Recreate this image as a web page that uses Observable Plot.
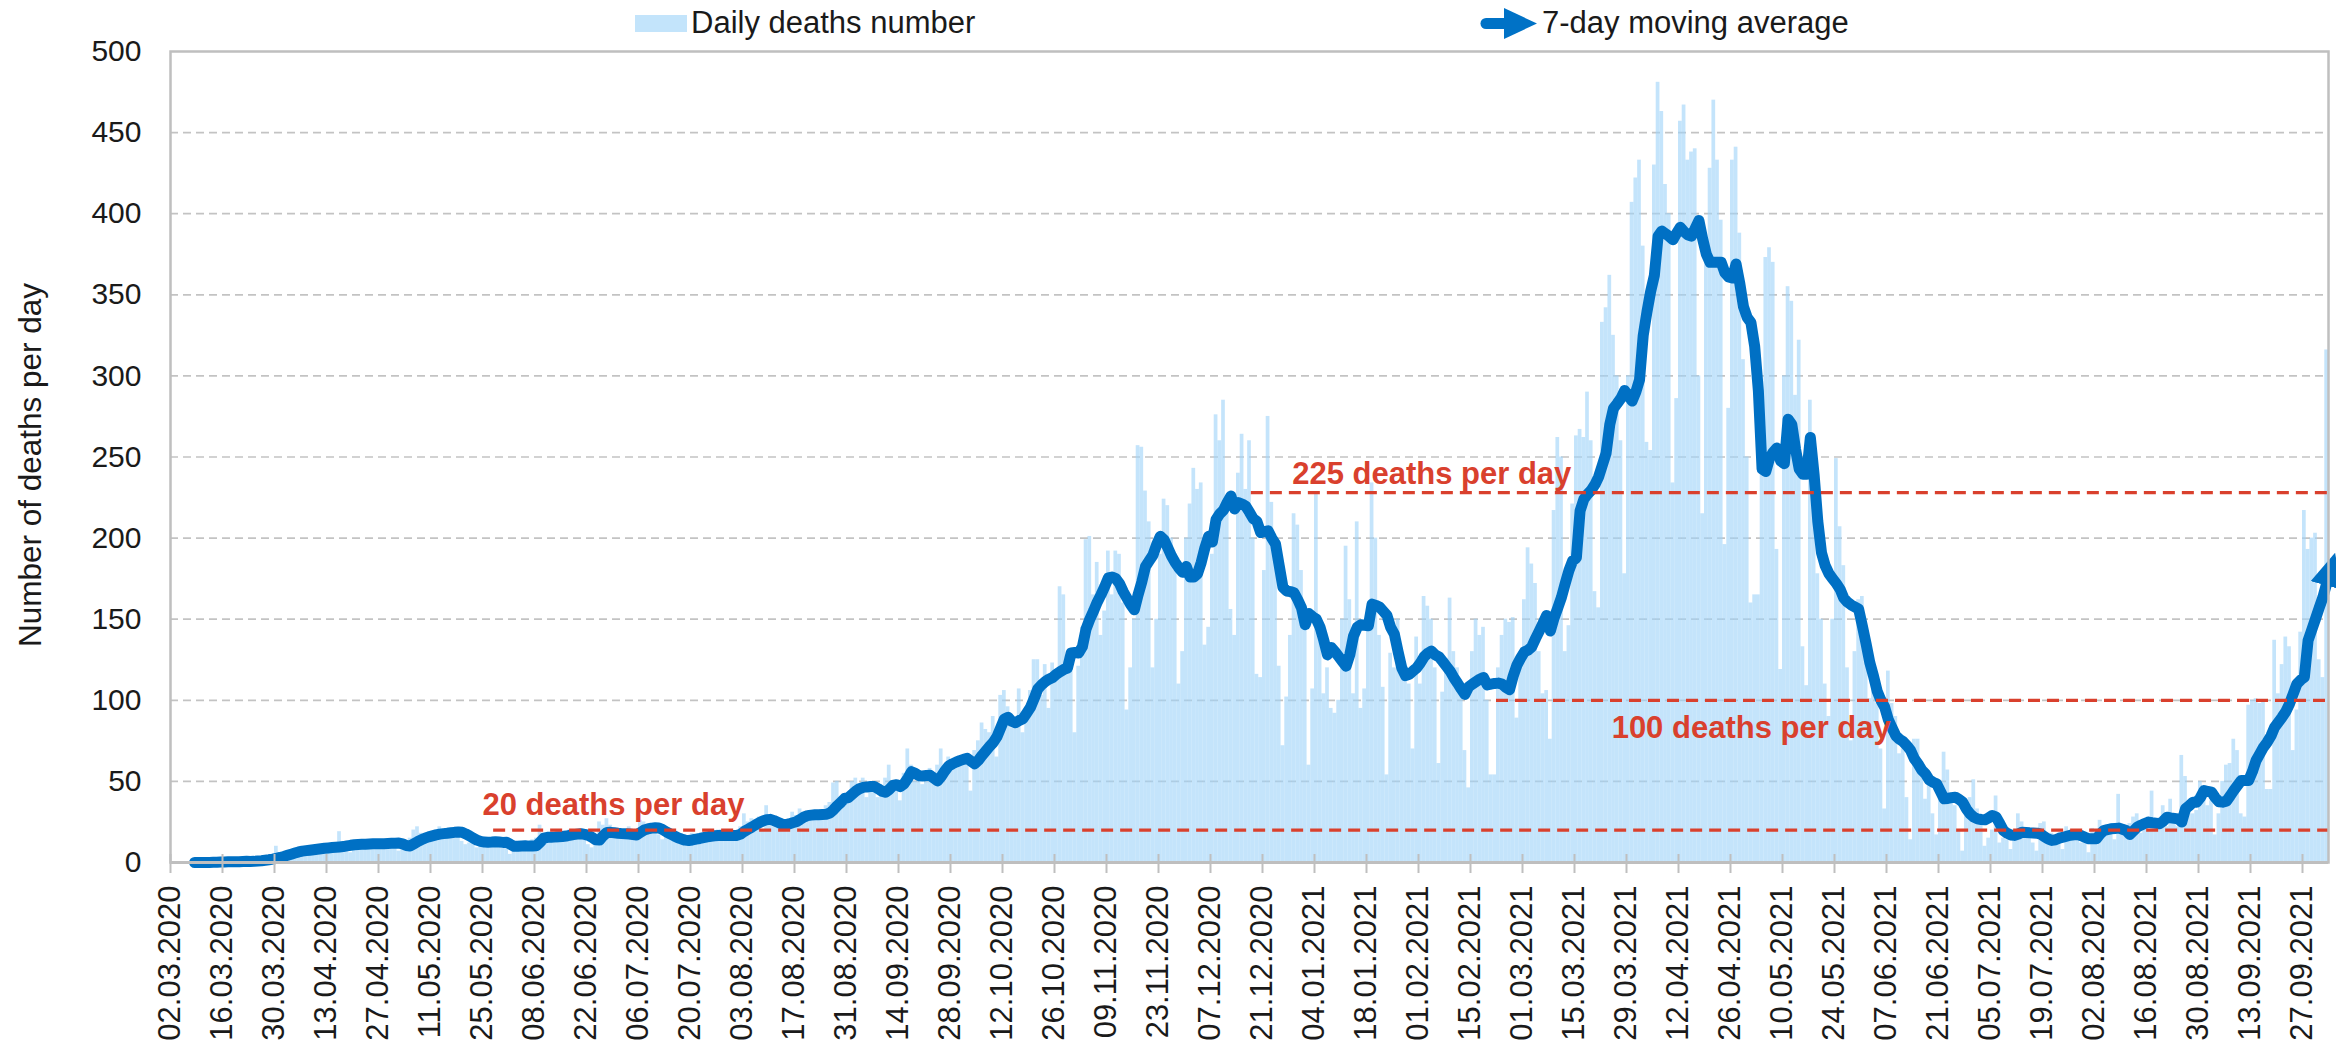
<!DOCTYPE html>
<html>
<head>
<meta charset="utf-8">
<script src="https://cdn.jsdelivr.net/npm/d3@7"></script>
<script src="https://cdn.jsdelivr.net/npm/@observablehq/plot@0.6"></script>
<style>
  html, body { margin: 0; padding: 0; background: #fff; }
  #wrap { position: relative; width: 2336px; height: 1044px; font-family: "Liberation Sans", Arial, sans-serif; }
  .lg { position: absolute; font-size: 31px; line-height: 31px; color: #1a1a1a; white-space: nowrap; }
</style>
</head>
<body>
<div id="wrap">
  <div id="chart"></div>
  <div style="position:absolute;left:635px;top:15px;width:52px;height:17px;background:#c3e4fb;"></div>
  <div class="lg" style="left:691px;top:7px;">Daily deaths number</div>
  <svg style="position:absolute;left:1478px;top:4px;" width="62" height="40">
    <line x1="8" y1="19.5" x2="30" y2="19.5" stroke="#0072c6" stroke-width="11" stroke-linecap="round"/>
    <polygon points="26,4 59,19.5 26,35" fill="#0072c6"/>
  </svg>
  <div class="lg" style="left:1542px;top:7px;">7-day moving average</div>
</div>
<script>
const startDate = "2020-03-02";
const tickStepDays = 14;

const dailyDeaths = [
0,0,0,0,0,0,0,
0,0,0,0,1,0,1,
0,1,0,1,0,1,2,
1,2,3,2,3,2,2,
10,5,6,7,8,5,5,
8,9,10,9,11,6,8,
9,10,12,19,10,8,6,
12,13,11,12,14,8,11,
12,12,13,14,13,7,9,
8,15,20,22,18,14,14,
16,20,22,19,21,17,15,
17,13,11,12,14,9,15,
14,12,15,13,11,9,13,
5,8,13,12,10,9,14,
15,23,16,14,17,12,14,
15,17,20,18,19,18,14,
11,9,12,25,23,27,23,
16,15,18,17,22,15,16,
26,25,22,20,18,17,14,
16,14,13,12,11,14,15,
18,17,16,15,18,14,18,
20,17,15,16,18,15,22,
30,25,27,26,28,20,35,
23,22,23,25,25,22,31,
29,33,31,30,28,27,29,
30,35,37,49,50,38,38,
40,50,52,45,52,40,49,
45,40,45,52,60,44,50,
38,55,70,60,50,52,48,
52,58,55,60,70,57,65,
60,63,62,61,67,44,69,
75,86,82,80,90,65,103,
106,96,83,85,107,80,87,
106,125,125,103,122,95,123,
118,170,165,120,130,80,121,
145,199,201,165,185,140,155,
192,165,192,190,160,94,120,
150,257,256,229,210,120,150,
190,224,220,200,180,110,130,
200,221,243,230,234,134,145,
190,276,260,285,220,156,140,
240,264,230,260,200,116,114,
180,275,222,200,121,72,102,
140,215,208,180,150,60,107,
228,150,104,120,95,92,100,
150,195,162,104,210,95,107,
150,234,200,140,108,54,129,
120,150,130,120,110,70,139,
110,164,158,150,120,61,105,
120,163,130,120,110,69,46,
130,150,140,145,100,54,54,
120,140,150,148,151,89,130,
162,194,184,172,130,104,106,
76,217,262,250,130,146,221,
263,267,262,290,260,167,157,
333,342,362,325,300,260,178,
300,407,422,433,380,259,254,
430,481,463,418,400,234,286,
457,467,433,438,440,300,215,
380,428,470,433,396,196,280,
433,441,388,310,250,160,165,
165,260,373,379,370,193,119,
300,355,346,288,322,133,109,
285,243,178,150,110,90,150,
249,207,183,120,75,130,162,
164,130,101,110,98,70,33,
118,98,90,67,70,40,14,
76,76,60,39,50,30,17,
45,68,57,40,35,20,7,
30,40,51,33,25,10,15,
20,41,12,15,14,8,14,
30,25,15,18,12,7,24,
25,15,18,14,12,8,22,
18,16,15,12,14,6,21,
16,26,22,20,24,14,42,
20,22,24,28,30,18,26,
28,44,25,24,35,22,39,
25,22,66,53,35,30,32,
50,40,35,38,17,30,50,
60,61,76,69,30,28,97,
100,101,98,100,45,45,137,
104,122,139,133,69,94,142,
217,193,200,203,125,114,316
];

const movingAvg7 = [
null,null,null,null,null,null,0,
0,0,0,0,0.1,0.1,0.3,
0.3,0.4,0.4,0.4,0.4,0.6,0.7,
0.6,0.7,0.9,1.1,1.4,1.7,2.1,
2.6,3.1,3.7,4.4,5.1,5.8,6.5,
7,7.3,7.6,7.9,8.2,8.5,8.8,
9,9.2,9.4,9.6,9.8,10.2,10.6,
10.9,11.1,11.2,11.3,11.4,11.5,11.5,
11.5,11.6,11.7,11.8,11.9,12,11.5,
10.5,10.2,11.5,12.8,14,15,15.8,
16.4,17,17.5,17.8,18,18.3,18.6,
18.8,18.6,17.6,16.4,15,13.8,13,
12.6,12.5,12.6,12.8,12.6,12.4,12.5,
11.2,10,10,10.2,10.3,10.1,10.2,
10.3,12.5,15,15.5,15.6,15.7,15.9,
16,16.3,16.8,17.2,17.5,17.7,17.3,
16.7,15.5,14,13.8,16.5,18.5,18.6,
18.3,18,17.8,17.7,17.6,17.3,17,
18.5,20,20.7,21.2,21.4,21.3,20.3,
18.9,17.7,16.5,15.4,14.5,13.8,13.6,
13.9,14.4,14.8,15.3,15.8,16.2,16.5,
16.7,16.8,16.7,16.6,16.6,16.7,17.5,
19.2,20.5,21.8,23.2,24.5,25.6,26.4,
26.6,25.8,24.8,23.8,23.4,23.8,24.5,
25.1,26.5,28,28.9,29.2,29.4,29.5,
29.6,29.7,30.5,32.5,35,37.1,39.5,
40,42,44,45.5,46.3,46.6,46.8,
46.8,45.5,44,43.3,45,47.5,48,
46.8,48.5,52,56,55,53.5,53.3,
53.6,53.8,52,50.3,53,56.5,59.5,
60.8,61.9,62.8,63.6,64.2,62.5,60.8,
63,66,68.8,71.5,74,77.5,83,
88.5,89.5,87,86.2,87.5,88.6,92,
95.5,101,107,109.5,111.5,113,114.1,
116,117.6,119,119.9,129.2,129.5,129.2,
133,144,150,155,160.5,165,170,
175.5,176,175,172,167,163,159,
155.8,165,173,182.5,186,189.5,196,
201.1,199,194,189,185,181.5,179,
182.5,176,176,178,185,194.1,201.1,
197.6,211.5,215,217.3,222,225.9,218,
221.9,221,219.6,216,212,210.3,203.4,
204,204.5,200,196.4,183,169.7,167.4,
167,166.3,162,157,146.6,153.5,151.5,
150,145,137,128,132.6,130,127,
124,121,128,139.6,145,146.6,146.2,
145.9,159.3,158.5,157.5,155,152.4,145,
140.8,130,119.9,115.2,116,118,119.9,
123,126.8,129,130.3,128,126.8,124,
121,118,114,110.6,107,103.6,108.3,
110,111.5,113,114.1,109.5,110,110.4,
110.6,110,108,106.5,115,121.7,126,
129.8,131,133,138,142.7,147.5,152.3,
142.7,150.7,157,163.6,172,180,186,
187.8,216.8,223.9,227,229.5,233,237.8,
245,252.3,270,280,283,286.2,291,
288,284.5,290,297.5,324.9,339.4,352,
361.9,386.1,389.3,387.7,386,383.9,388,
391.6,389,387,386.1,390.9,395.8,384.5,
375,370,370,370,370,363.5,361,
360.3,369,357.1,342.6,336,332.9,318.4,
291,242.6,241,249.1,253,255.5,247.5,
245.9,273.3,270.1,255,242.6,239.4,239.4,
262,239.4,210.4,191,183,178.1,175,
172,168.5,163,160.5,158.8,157.5,156.2,
145.9,135,123.3,115,105.6,100,95.9,
88,83,78.2,76,74.5,72,69.1,
64,60.8,57,54.7,51,49.5,48.5,
44,39.3,39.5,40,40.3,39,37.2,
33,30,28,26.9,26.5,26.3,27.5,
29,28,24,19.7,18,17,16.7,
17.5,18.7,18.5,18.3,18.2,18.1,17.5,
16,14.5,13.6,14,15,15.6,16.2,
16.8,17.1,17.3,16.5,15.5,14.6,14.6,
14.6,17.5,19.7,20.3,20.8,21,21.2,
20.5,19.7,17.3,19.5,21.8,23,24,
24.9,24.5,24.2,23.9,25.5,27.9,27.5,
27.2,26.9,24.9,33.1,35,37.2,37.2,
40,44.4,43.8,43.4,40,37.5,37.2,
37.8,41,44.4,47.5,50.6,50.6,50.6,
56,62.9,67,71.1,74.2,78,83.4,
86.5,89.6,93,97.8,104,110.2,112.5,
114.3,136.9,143.5,150.2,157,163.6,172
];

const yTickValues = [0, 50, 100, 150, 200, 250, 300, 350, 400, 450, 500];
const refValues = [20, 228, 100];
const refStartDates = ["2020-05-28", "2020-12-18", "2021-02-22"];
const refLabels = ["20 deaths per day", "225 deaths per day", "100 deaths per day"];
const refLabelDates = ["2020-05-25", "2020-12-29", "2021-03-25"];
const refLabelOffsets = [-25, -19, 28];

const start = new Date(startDate + "T00:00:00Z");
const end = d3.utcDay.offset(start, dailyDeaths.length);
const days = dailyDeaths.map((v, i) => ({
  date: d3.utcDay.offset(start, i),
  value: v,
  avg: movingAvg7[i]
}));
const avgRows = days.filter(d => d.avg != null);
const xTicks = d3.utcDay.range(start, end, tickStepDays);
const fmt = d3.utcFormat("%d.%m.%Y");

const refRows = refValues.map((v, i) => ({
  value: v,
  from: new Date(refStartDates[i] + "T00:00:00Z"),
  to: end,
  label: refLabels[i],
  labelAt: new Date(refLabelDates[i] + "T00:00:00Z"),
  dy: refLabelOffsets[i]
}));

const red = "#d9402d";
const blue = "#0070c4";
const plot = Plot.plot({
  width: 2336,
  height: 1044,
  marginLeft: 170,
  marginRight: 8,
  marginTop: 51,
  marginBottom: 182,
  style: {fontFamily: "'Liberation Sans', Arial, sans-serif", fontSize: "30px", color: "#1a1a1a", background: "#fff"},
  x: {type: "utc", domain: [start, end], axis: null},
  y: {domain: [0, 500], axis: null},
  marks: [
    Plot.gridY(yTickValues.filter(v => v > 0 && v < 500), {stroke: "#c3c3c3", strokeOpacity: 1, strokeWidth: 1.7, strokeDasharray: "8,5"}),
    Plot.rect(days, {x1: "date", x2: d => d3.utcDay.offset(d.date, 1), y1: 0, y2: "value", fill: "#9fd3f8", fillOpacity: 0.62}),
    Plot.line(avgRows, {x: d => d3.utcHour.offset(d.date, 12), y: "avg", stroke: blue, strokeWidth: 11, strokeLinejoin: "round", strokeLinecap: "round"}),
    ...refRows.map(r => Plot.ruleY([r], {y: "value", x1: "from", x2: "to", stroke: red, strokeWidth: 3.2, strokeDasharray: "12,7"})),
    ...refRows.map(r => Plot.text([r], {x: "labelAt", y: "value", text: "label", dy: r.dy, textAnchor: "start", lineAnchor: "middle", fill: red, fontSize: 31, fontWeight: "bold"})),
    Plot.ruleY([0], {stroke: "#bfbfbf", strokeWidth: 3}),
    Plot.axisX(xTicks, {tickSize: 19, dy: -8, tickFormat: () => "", stroke: "#bfbfbf", strokeWidth: 2}),
    Plot.text(xTicks, {x: d => d, frameAnchor: "bottom", dy: 23, rotate: -90, textAnchor: "end", lineAnchor: "middle", text: d => fmt(d), fontSize: 31, fill: "#1a1a1a"}),
    Plot.axisY(yTickValues, {tickSize: 0, tickPadding: 29, fontSize: 30, label: null, fill: "#1a1a1a"}),
    Plot.text(["Number of deaths per day"], {frameAnchor: "left", dx: -140, dy: 8, rotate: -90, text: d => d, lineAnchor: "middle", textAnchor: "middle", fontSize: 31.5, fill: "#1a1a1a"}),
    Plot.frame({stroke: "#bfbfbf", strokeWidth: 2.5})
  ]
});

// filled arrowhead at the end of the moving-average line
const ns = "http://www.w3.org/2000/svg";
const defs = document.createElementNS(ns, "defs");
const marker = document.createElementNS(ns, "marker");
marker.setAttribute("id", "avgArrow");
marker.setAttribute("markerUnits", "userSpaceOnUse");
marker.setAttribute("viewBox", "0 0 34 32");
marker.setAttribute("markerWidth", "34");
marker.setAttribute("markerHeight", "32");
marker.setAttribute("refX", "2");
marker.setAttribute("refY", "16");
marker.setAttribute("orient", "auto");
const mp = document.createElementNS(ns, "path");
mp.setAttribute("d", "M0,0 L34,16 L0,32 Z");
mp.setAttribute("fill", blue);
marker.appendChild(mp);
defs.appendChild(marker);
plot.insertBefore(defs, plot.firstChild);
const linePath = plot.querySelector('g[aria-label="line"] path');
if (linePath) linePath.setAttribute("marker-end", "url(#avgArrow)");

document.getElementById("chart").appendChild(plot);
</script>
</body>
</html>
